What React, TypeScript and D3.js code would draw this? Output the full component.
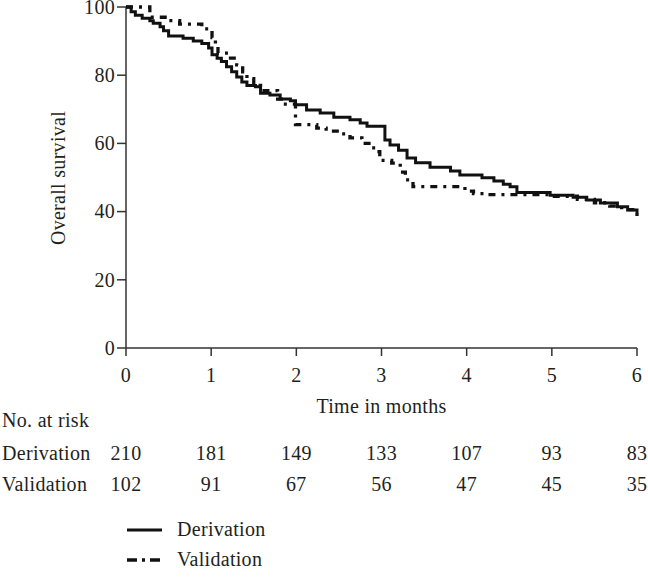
import React from "react";
import * as d3 from "d3";

// Kaplan-Meier steps (time in months, survival %)
const derivTimes = [0, 0.06, 0.11, 0.19, 0.28, 0.32, 0.4, 0.44, 0.5, 0.67, 0.79, 0.89, 0.97, 1.01, 1.07, 1.12, 1.18, 1.24, 1.3, 1.36, 1.42, 1.52, 1.58, 1.69, 1.81, 1.93, 1.99, 2.12, 2.28, 2.44, 2.63, 2.75, 2.83, 3.04, 3.1, 3.2, 3.3, 3.4, 3.57, 3.81, 3.92, 4.18, 4.32, 4.43, 4.51, 4.59, 4.98, 5.25, 5.41, 5.57, 5.77, 5.89, 6.0];
const derivSurv = [100, 98.6, 97.6, 96.7, 96, 95.2, 94.2, 93, 91.5, 90.8, 90, 89.3, 88, 86, 85, 84, 82.5, 81, 79.5, 78, 77, 76.6, 74.7, 74.2, 73, 72.5, 71.3, 69.8, 68.9, 67.7, 66.9, 66, 65, 61, 59.5, 58, 55.7, 54.3, 53, 51.9, 50.7, 49.9, 49, 48, 47.3, 45.6, 44.8, 44.2, 43.4, 42.5, 41.4, 40.5, 39.6];

const validTimes = [0, 0.28, 0.48, 0.63, 0.89, 1.01, 1.05, 1.08, 1.2, 1.3, 1.37, 1.42, 1.5, 1.58, 1.78, 1.85, 1.99, 2.24, 2.35, 2.52, 2.63, 2.77, 2.89, 2.95, 2.98, 3.12, 3.22, 3.28, 3.37, 3.98, 4.08, 4.2, 5.0, 5.3, 5.5, 5.68, 5.82, 5.95, 6.0];
const validSurv = [100, 97, 96, 95, 93.6, 91, 89, 86.5, 85, 83, 81, 79, 77, 75.5, 73, 71.5, 65.5, 64.5, 63.6, 62.8, 61.6, 60, 58.7, 57.6, 55, 54.2, 51.6, 49.3, 47.3, 46, 45.3, 45, 44.5, 43.6, 42.6, 41.6, 40.6, 40, 37];

const xTicks = [0, 1, 2, 3, 4, 5, 6];
const yTicks = [0, 20, 40, 60, 80, 100];
const derivAtRisk = [210, 181, 149, 133, 107, 93, 83];
const validAtRisk = [102, 91, 67, 56, 47, 45, 35];

const W = 648, H = 586;
const ink = "#231f20";
const axisCol = "#333";
const font = "'Liberation Serif', 'Times New Roman', serif";
const fs = 20;

export default function App() {
  const x = d3.scaleLinear().domain([0, 6]).range([126, 637]);
  const y = d3.scaleLinear().domain([0, 100]).range([348, 7]);

  const mk = (ts: number[], vs: number[]) =>
    d3
      .line<[number, number]>()
      .x((d) => x(d[0]))
      .y((d) => y(d[1]))
      .curve(d3.curveStepAfter)(ts.map((t, i) => [t, vs[i]] as [number, number])) || "";

  const derivPath = mk(derivTimes, derivSurv);
  const validPath = mk(validTimes, validSurv);

  return (
    <svg
      width={W}
      height={H}
      style={{ position: "absolute", left: 0, top: 0, background: "#fff" }}
      fontFamily={font}
      fontSize={fs}
      fill={ink}
      letterSpacing={0.3}
    >
      {/* axes */}
      <line x1={x(0)} x2={x(0)} y1={y(0)} y2={y(100)} stroke={axisCol} strokeWidth={1.5} />
      <line x1={x(0)} x2={x(6)} y1={y(0)} y2={y(0)} stroke={axisCol} strokeWidth={1.5} />
      {yTicks.map((t) => (
        <g key={"y" + t}>
          <line x1={x(0) - 9} x2={x(0)} y1={y(t)} y2={y(t)} stroke={axisCol} strokeWidth={1.5} />
          <text x={x(0) - 11} y={y(t)} dy="0.34em" textAnchor="end">{t}</text>
        </g>
      ))}
      {xTicks.map((t) => (
        <g key={"x" + t}>
          <line x1={x(t)} x2={x(t)} y1={y(0)} y2={y(0) + 8} stroke={axisCol} strokeWidth={1.5} />
          <text x={x(t)} y={382} textAnchor="middle">{t}</text>
        </g>
      ))}
      <text x={381.5} y={413} textAnchor="middle">Time in months</text>
      <text transform="translate(65,178) rotate(-90)" textAnchor="middle">Overall survival</text>

      {/* curves */}
      <path d={derivPath} fill="none" stroke="#111" strokeWidth={3} />
      <path d={validPath} fill="none" stroke="#111" strokeWidth={3.3} strokeDasharray="7,6,3,6" />

      {/* number at risk */}
      <text x={2} y={427}>No. at risk</text>
      <text x={2} y={460}>Derivation</text>
      <text x={2} y={491}>Validation</text>
      {derivAtRisk.map((n, i) => (
        <text key={"d" + i} x={x(xTicks[i])} y={460} textAnchor="middle">{n}</text>
      ))}
      {validAtRisk.map((n, i) => (
        <text key={"v" + i} x={x(xTicks[i])} y={491} textAnchor="middle">{n}</text>
      ))}

      {/* legend */}
      <line x1={127} x2={162} y1={530} y2={530} stroke="#111" strokeWidth={3} />
      <text x={177} y={536}>Derivation</text>
      <line x1={127} x2={162} y1={560} y2={560} stroke="#111" strokeWidth={3.3} strokeDasharray="10,5,3,5" />
      <text x={177} y={566}>Validation</text>
    </svg>
  );
}
